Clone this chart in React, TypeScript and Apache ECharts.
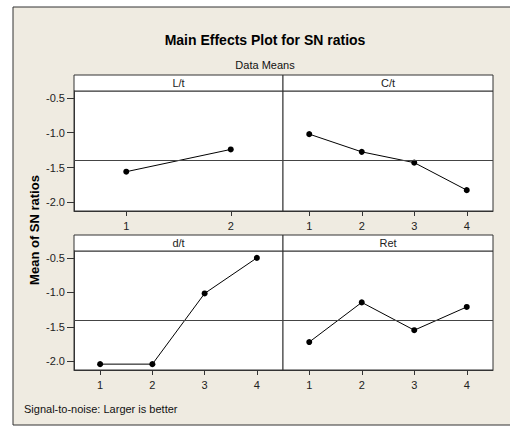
import React, { useEffect, useRef } from "react";
import * as echarts from "echarts";

const title = "Main Effects Plot for SN ratios";
const subtitle = "Data Means";
const yAxisName = "Mean of SN ratios";
const footer = "Signal-to-noise: Larger is better";

const panelNames = ["L/t", "C/t", "d/t", "Ret"];
const catsLt = ["1", "2"];
const cats4 = ["1", "2", "3", "4"];
const valuesLt = [-1.56, -1.24];
const valuesCt = [-1.02, -1.275, -1.43, -1.825];
const valuesDt = [-2.04, -2.04, -1.015, -0.5];
const valuesRet = [-1.72, -1.145, -1.548, -1.211];
const overallMean = -1.4;
const yTicks = [-2.0, -1.5, -1.0, -0.5];
const yMin = -2.125;
const yMax = -0.4;

const FONT = "Liberation Sans, Arial, sans-serif";

export default function App() {
  const ref = useRef<HTMLDivElement>(null);
  useEffect(() => {
    if (!ref.current) return;
    const chart = echarts.init(ref.current, null, { renderer: "svg" });
    const grids = [
      { left: 74, top: 91, width: 209, height: 120 },
      { left: 283, top: 91, width: 210, height: 120 },
      { left: 74, top: 251, width: 209, height: 119 },
      { left: 283, top: 251, width: 210, height: 119 },
    ];
    const catsList = [catsLt, cats4, cats4, cats4];
    const valsList = [valuesLt, valuesCt, valuesDt, valuesRet];
    const option: any = {
      animation: false,
      backgroundColor: "#ffffff",
      grid: grids.map((g) => ({
        ...g,
        show: true,
        backgroundColor: "#ffffff",
        borderColor: "#333333",
        borderWidth: 1,
        containLabel: false,
      })),
      xAxis: catsList.map((c, i) => ({
        type: "category",
        gridIndex: i,
        data: c,
        boundaryGap: true,
        axisLine: { show: true, lineStyle: { color: "#333333", width: 1 } },
        axisTick: { show: true, alignWithLabel: true, length: 5, lineStyle: { color: "#333333" } },
        axisLabel: { color: "#222222", fontSize: 11, fontFamily: FONT, margin: 9 },
        splitLine: { show: false },
      })),
      yAxis: grids.map((_, i) => ({
        type: "value",
        gridIndex: i,
        min: yMin,
        max: yMax,
        axisLine: { show: i % 2 === 0, lineStyle: { color: "#333333" } },
        axisTick: {
          show: i % 2 === 0,
          length: 7,
          customValues: yTicks,
          lineStyle: { color: "#333333" },
        },
        axisLabel: {
          show: i % 2 === 0,
          customValues: yTicks,
          color: "#222222",
          fontSize: 11,
          fontFamily: FONT,
          margin: 9,
          formatter: (v: number) => v.toFixed(1),
        },
        splitLine: { show: false },
      })),
      series: valsList.map((v, i) => ({
        type: "line",
        xAxisIndex: i,
        yAxisIndex: i,
        data: v,
        symbol: "circle",
        symbolSize: 6,
        itemStyle: { color: "#000000" },
        lineStyle: { color: "#000000", width: 1 },
        markLine: {
          silent: true,
          symbol: "none",
          label: { show: false },
          lineStyle: { color: "#444444", width: 1, type: "solid" },
          data: [{ yAxis: overallMean }],
        },
        z: 3,
      })),
      graphic: [
        {
          type: "rect",
          z: -10,
          shape: { x: 13, y: 7, width: 520, height: 418 },
          style: { fill: "#EFEBE1", stroke: "#333333", lineWidth: 1 },
        },
        {
          type: "text",
          x: 265,
          y: 40,
          style: {
            text: title,
            font: "bold 14px " + FONT,
            fill: "#000000",
            align: "center",
            verticalAlign: "middle",
          },
        },
        {
          type: "text",
          x: 265,
          y: 65,
          style: {
            text: subtitle,
            font: "11px " + FONT,
            fill: "#111111",
            align: "center",
            verticalAlign: "middle",
          },
        },
        {
          type: "text",
          x: 34,
          y: 230,
          rotation: Math.PI / 2,
          style: {
            text: yAxisName,
            font: "bold 13px " + FONT,
            fill: "#000000",
            align: "center",
            verticalAlign: "middle",
          },
        },
        {
          type: "text",
          x: 24,
          y: 409,
          style: {
            text: footer,
            font: "11px " + FONT,
            fill: "#111111",
            align: "left",
            verticalAlign: "middle",
          },
        },
        ...grids.map((g, i) => ({
          type: "group",
          children: [
            {
              type: "rect",
              shape: { x: g.left, y: g.top - 16, width: g.width, height: 16 },
              style: { fill: "#ffffff", stroke: "#333333", lineWidth: 1 },
            },
            {
              type: "text",
              x: g.left + g.width / 2,
              y: g.top - 8,
              style: {
                text: panelNames[i],
                font: "11px " + FONT,
                fill: "#222222",
                align: "center",
                verticalAlign: "middle",
              },
            },
          ],
        })),
      ],
    };
    chart.setOption(option);
    return () => chart.dispose();
  }, []);
  return (
    <div
      ref={ref}
      style={{ position: "fixed", left: 0, top: 0, width: 510, height: 426 }}
    />
  );
}
